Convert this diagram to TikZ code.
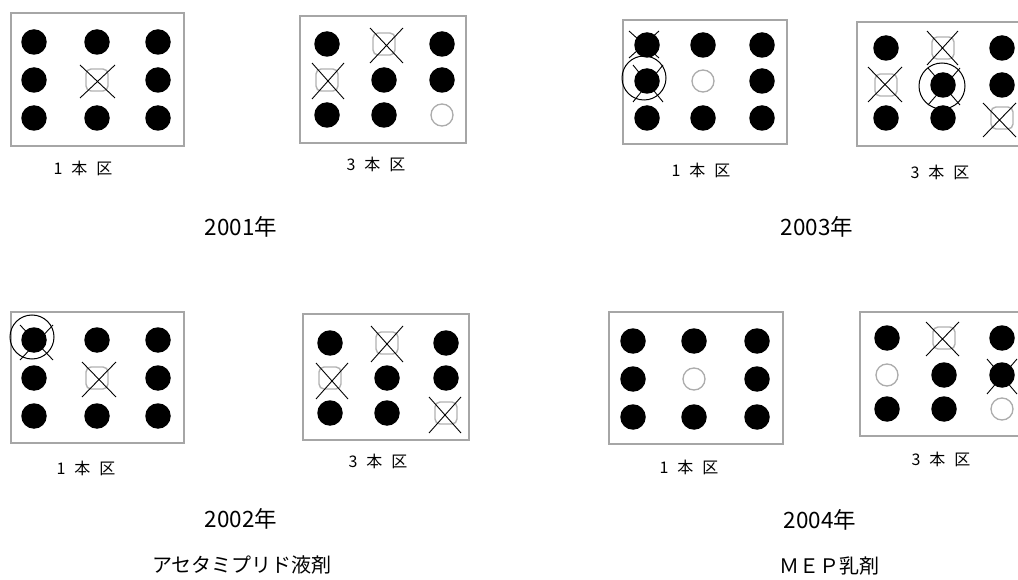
\documentclass[tikz,border=0pt]{standalone}
\usepackage{fontspec}
\setmainfont{Noto Sans CJK JP}
\newcommand\kulabel[1]{#1\hskip 9pt 本\hskip 9pt 区}
\begin{document}
\begin{tikzpicture}[x=1pt,y=-1pt,
  dot/.style={circle,fill=black,minimum size=25.5pt,inner sep=0pt},
  hcirc/.style={circle,draw=gray!65,line width=1.3pt,minimum size=22pt,inner sep=0pt},
  hsq/.style={rectangle,rounded corners=5pt,draw=gray!60,line width=1.4pt,minimum size=22pt,inner sep=0pt},
  ring/.style={circle,draw=black,line width=1pt,inner sep=0pt},
  plotbox/.style={draw=gray!70,line width=2pt,fill=white},
  xline/.style={draw=black,line width=0.9pt},
  sublabel/.style={font=\fontsize{16}{19}\selectfont,inner sep=0pt},
  yearlabel/.style={font=\fontsize{22.5}{26}\selectfont,inner sep=0pt},
  chemlabel/.style={font=\fontsize{20}{24}\selectfont,inner sep=0pt}]
\useasboundingbox (0,0) rectangle (1018,580);
\clip (0,0) rectangle (1018,580);
% ---------- panel 1 : 2001, 1本区
\draw[plotbox] (11,13) rectangle (184,146);
\node[dot] (a11) at (34,42) {}; \node[dot] (a12) at (97,42) {}; \node[dot] (a13) at (158,42) {};
\node[dot] (a21) at (34,80) {}; \node[hsq] (a22) at (97,80) {}; \node[dot] (a23) at (158,80) {};
\node[dot] (a31) at (34,118) {}; \node[dot] (a32) at (97,118) {}; \node[dot] (a33) at (158,118) {};
\draw[xline] (80,65) -- (115,98) (80,98) -- (115,65);
\node[sublabel] (la) at (83,168) {\kulabel{1}};
% ---------- panel 2 : 2001, 3本区
\draw[plotbox] (300,16) rectangle (466,143);
\node[dot] (b11) at (327,44) {}; \node[hsq] (b12) at (384,44) {}; \node[dot] (b13) at (442,44) {};
\node[hsq] (b21) at (327,80) {}; \node[dot] (b22) at (384,80) {}; \node[dot] (b23) at (442,80) {};
\node[dot] (b31) at (327,115) {}; \node[dot] (b32) at (384,115) {}; \node[hcirc] (b33) at (442,115) {};
\draw[xline] (370,28) -- (403,63) (370,63) -- (403,28);
\draw[xline] (312,63) -- (344,99) (312,99) -- (344,63);
\node[sublabel] (lb) at (376,164) {\kulabel{3}};
% ---------- panel 3 : 2003, 1本区
\draw[plotbox] (623,20) rectangle (787,144);
\node[dot] (c11) at (647,45) {}; \node[dot] (c12) at (703,45) {}; \node[dot] (c13) at (762,45) {};
\node[dot] (c21) at (647,81) {}; \node[hcirc] (c22) at (703,81) {}; \node[dot] (c23) at (762,81) {};
\node[dot] (c31) at (647,118) {}; \node[dot] (c32) at (703,118) {}; \node[dot] (c33) at (762,118) {};
\draw[xline] (629,31) -- (659,58) (629,58) -- (659,31);
\draw[xline] (633,65) -- (663,102) (633,102) -- (663,65);
\node[ring,minimum size=44pt] (rc) at (644,78) {};
\node[sublabel] (lc) at (701,170) {\kulabel{1}};
% ---------- panel 4 : 2003, 3本区
\draw[plotbox] (857,22) rectangle (1030,146);
\node[dot] (d11) at (886,48) {}; \node[hsq] (d12) at (943,48) {}; \node[dot] (d13) at (1002,48) {};
\node[hsq] (d21) at (886,85) {}; \node[dot] (d22) at (943,85) {}; \node[dot] (d23) at (1002,85) {};
\node[dot] (d31) at (886,118) {}; \node[dot] (d32) at (943,118) {}; \node[hsq] (d33) at (1002,118) {};
\draw[xline] (927,31) -- (958,65) (927,65) -- (958,31);
\draw[xline] (868,67) -- (902,102) (868,102) -- (902,67);
\draw[xline] (928,68) -- (960,105) (928,105) -- (960,68);
\draw[xline] (983,103) -- (1016,137) (983,137) -- (1016,103);
\node[ring,minimum size=46pt] (rd) at (942,86) {};
\node[sublabel] (ld) at (940,172) {\kulabel{3}};
% ---------- panel 5 : 2002, 1本区
\draw[plotbox] (11,312) rectangle (184,443);
\node[dot] (e11) at (34,340) {}; \node[dot] (e12) at (97,340) {}; \node[dot] (e13) at (158,340) {};
\node[dot] (e21) at (34,378) {}; \node[hsq] (e22) at (97,378) {}; \node[dot] (e23) at (158,378) {};
\node[dot] (e31) at (34,416) {}; \node[dot] (e32) at (97,416) {}; \node[dot] (e33) at (158,416) {};
\draw[xline] (20,325) -- (53,360) (20,360) -- (53,325);
\draw[xline] (82,362) -- (116,397) (82,397) -- (116,362);
\node[ring,minimum size=44pt] (re) at (32,337) {};
\node[sublabel] (le) at (86,468) {\kulabel{1}};
% ---------- panel 6 : 2002, 3本区
\draw[plotbox] (303,314) rectangle (469,440);
\node[dot] (f11) at (330,343) {}; \node[hsq] (f12) at (387,343) {}; \node[dot] (f13) at (446,343) {};
\node[hsq] (f21) at (330,378) {}; \node[dot] (f22) at (387,378) {}; \node[dot] (f23) at (446,378) {};
\node[dot] (f31) at (330,413) {}; \node[dot] (f32) at (387,413) {}; \node[hsq] (f33) at (446,413) {};
\draw[xline] (371,326) -- (403,362) (371,362) -- (403,326);
\draw[xline] (316,363) -- (348,399) (316,399) -- (348,363);
\draw[xline] (429,397) -- (461,433) (429,433) -- (461,397);
\node[sublabel] (lf) at (378,461) {\kulabel{3}};
% ---------- panel 7 : 2004, 1本区
\draw[plotbox] (609,312) rectangle (783,444);
\node[dot] (g11) at (633,341) {}; \node[dot] (g12) at (694,341) {}; \node[dot] (g13) at (757,341) {};
\node[dot] (g21) at (633,379) {}; \node[hcirc] (g22) at (694,379) {}; \node[dot] (g23) at (757,379) {};
\node[dot] (g31) at (633,417) {}; \node[dot] (g32) at (694,417) {}; \node[dot] (g33) at (757,417) {};
\node[sublabel] (lg) at (689,467) {\kulabel{1}};
% ---------- panel 8 : 2004, 3本区
\draw[plotbox] (860,312) rectangle (1030,436);
\node[dot] (h11) at (887,338) {}; \node[hsq] (h12) at (944,338) {}; \node[dot] (h13) at (1002,338) {};
\node[hcirc] (h21) at (887,375) {}; \node[dot] (h22) at (944,375) {}; \node[dot] (h23) at (1002,375) {};
\node[dot] (h31) at (887,409) {}; \node[dot] (h32) at (944,409) {}; \node[hcirc] (h33) at (1002,409) {};
\draw[xline] (926,322) -- (959,356) (926,356) -- (959,322);
\draw[xline] (987,359) -- (1017,394) (987,394) -- (1017,359);
\node[sublabel] (lh) at (941,459) {\kulabel{3}};
% ---------- titles
\node[yearlabel] (y1) at (241,227) {2001年};
\node[yearlabel] (y3) at (817,227) {2003年};
\node[yearlabel] (y2) at (241,519) {2002年};
\node[yearlabel] (y4) at (820,520) {2004年};
\node[chemlabel] (t1) at (242,565) {アセタミプリド液剤};
\node[chemlabel] (t2) at (829,566) {ＭＥＰ乳剤};
\end{tikzpicture}
\end{document}
